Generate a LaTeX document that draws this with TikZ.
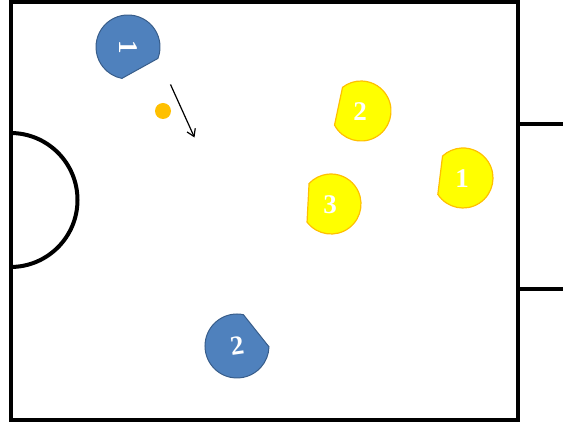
\documentclass[tikz,border=0pt]{standalone}
\usepackage{fontspec}
\setmainfont{Liberation Serif}
\usepackage{xcolor}
\usepackage{tikz}
\usetikzlibrary{arrows.meta}
\definecolor{botblue}{HTML}{4F81BD}
\definecolor{botblueedge}{HTML}{385D8A}
\definecolor{botyellow}{HTML}{FFFF00}
\definecolor{botyellowedge}{HTML}{FFC000}
\definecolor{ballorange}{HTML}{FFC000}

\begin{document}
\begin{tikzpicture}[
  x=1pt, y=1pt,
  field/.style={line width=4pt},
  bluebot/.style={fill=botblue, draw=botblueedge, line width=1pt},
  yellowbot/.style={fill=botyellow, draw=botyellowedge, line width=1.2pt},
  botnum/.style={text=white, font=\fontsize{27}{27}\selectfont\bfseries, inner sep=0pt},
  ball/.style={circle, fill=ballorange, minimum size=16pt, inner sep=0pt},
  move/.style={-{Straight Barb[length=7pt, width=9pt]}, line width=1.2pt}
]
\useasboundingbox (0,0) rectangle (563,423);
% field and goal
\draw[field] (10.5,3) rectangle (517.5,421);
\draw[field] (517.5,299) -- (566,299);
\draw[field] (517.5,134) -- (566,134);
\draw[field] (10.5,290) arc[start angle=90, end angle=-90, radius=67];

% blue robots
\foreach \n/\x/\y/\dir/\rot in {1/128/376/-61/-90, 2/237/77/38.5/8}{
  \draw[bluebot] (\x,\y) ++(\dir+40:32) arc[start angle=\dir+40, delta angle=280, radius=32] -- cycle;
  \node[botnum, rotate=\rot] (blue\n) at (\x,\y) {\n};
}

% yellow robots
\foreach \n/\x/\y/\dir in {1/463/245/173, 2/361/312/168, 3/331/219/177}{
  \draw[yellowbot] (\x,\y) ++(\dir+40:30) arc[start angle=\dir+40, delta angle=280, radius=30] -- cycle;
  \node[botnum] (yellow\n) at (\x-1,\y-1) {\n};
}

% ball and its path
\node[ball] (ball) at (163,312) {};
\coordinate (shotstart) at (170.5,338.5);
\coordinate (shotend) at (194.5,285.5);
\draw[move] (shotstart) -- (shotend);
\end{tikzpicture}
\end{document}
